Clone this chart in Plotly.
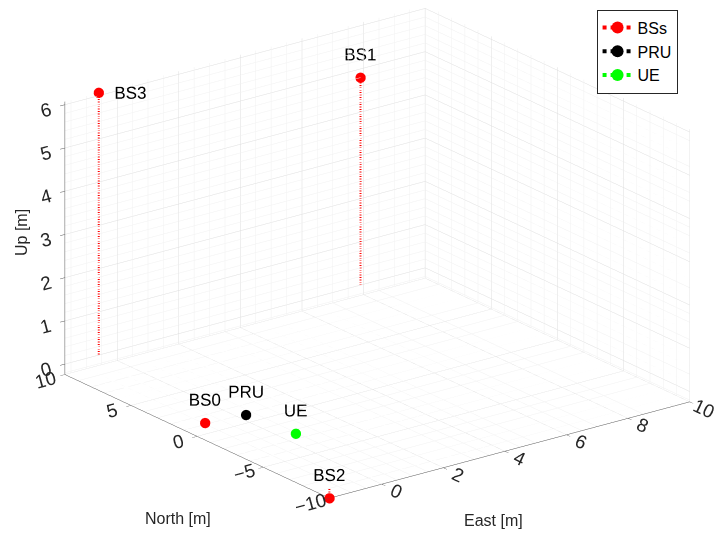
import plotly.graph_objects as go
import math

# ---- data ----
bs_names = ["BS0", "BS1", "BS2", "BS3"]
bs_east = [-1.4, 7.9, -1.7, -0.6]
bs_north = [0.1, 10.0, -10.0, 10.0]
bs_up = [0.0, 4.8, -0.24, 6.07]

pru_east = [-0.2]
pru_north = [-0.2]
pru_up = [0.0]

ue_east = [0.0]
ue_north = [-3.5]
ue_up = [0.0]

east_ticks = [0, 2, 4, 6, 8, 10]
north_ticks = [-10, -5, 0, 5, 10]
up_ticks = [0, 1, 2, 3, 4, 5, 6]

east_minor_step = 0.5
north_minor_step = 1.0
up_minor_step = 0.2

east_range = [-1.7, 10]
north_range = [-10, 10]
up_range = [-0.24, 6.07]

FONT = "Liberation Sans, Arial, sans-serif"
TXT = "#262626"
MS = 12


def minor_vals(rng, step, majors):
    k0 = math.ceil(rng[0] / step - 1e-9)
    k1 = math.floor(rng[1] / step + 1e-9)
    vals = [round(k * step, 6) for k in range(k0, k1 + 1)]
    return [v for v in vals if all(abs(v - m) > 1e-6 for m in majors)]


def stems(xs, ys, zs):
    # stem from ground (0) to the point; marker only at the point
    X, Y, Z, S = [], [], [], []
    for x, y, z in zip(xs, ys, zs):
        X += [x, x, None]
        Y += [y, y, None]
        Z += [0, z, None]
        S += [0, MS, 2 * MS]
    return X, Y, Z, S


fig = go.Figure()

# ---- minor grid on the three back planes ----
xm = minor_vals(east_range, east_minor_step, east_ticks)
ym = minor_vals(north_range, north_minor_step, north_ticks)
zm = minor_vals(up_range, up_minor_step, up_ticks)
x0, x1 = east_range
y0, y1 = north_range
z0, z1 = up_range
GX, GY, GZ = [], [], []


def seg(a, b):
    GX.extend([a[0], b[0], None])
    GY.extend([a[1], b[1], None])
    GZ.extend([a[2], b[2], None])


for v in xm:
    seg((v, y0, z0), (v, y1, z0))   # floor
    seg((v, y1, z0), (v, y1, z1))   # back wall (y = max)
for v in ym:
    seg((x0, v, z0), (x1, v, z0))   # floor
    seg((x1, v, z0), (x1, v, z1))   # side wall (x = max)
for v in zm:
    seg((x0, y1, v), (x1, y1, v))   # back wall
    seg((x1, y0, v), (x1, y1, v))   # side wall

fig.add_trace(go.Scatter3d(
    x=GX, y=GY, z=GZ, mode="lines", showlegend=False, hoverinfo="skip",
    line=dict(color="#f1f1f1", width=1)))

series = [
    ("BSs", bs_east, bs_north, bs_up, "#ff0000"),
    ("PRU", pru_east, pru_north, pru_up, "#000000"),
    ("UE", ue_east, ue_north, ue_up, "#00ff00"),
]
for name, xs, ys, zs, col in series:
    X, Y, Z, S = stems(xs, ys, zs)
    fig.add_trace(go.Scatter3d(
        x=X, y=Y, z=Z, mode="lines+markers", name=name,
        line=dict(color=col, width=4, dash="dot"),
        marker=dict(size=S, color=col, line=dict(width=0), opacity=1),
        hoverinfo="skip"))

# text labels
lab_pos = ["top center", "top center", "top center", "middle right"]
fig.add_trace(go.Scatter3d(
    x=bs_east, y=bs_north, z=bs_up, mode="text", text=bs_names,
    textposition=lab_pos, textfont=dict(family=FONT, size=17, color="#000"),
    showlegend=False, hoverinfo="skip"))
fig.add_trace(go.Scatter3d(
    x=pru_east + ue_east, y=pru_north + ue_north, z=pru_up + ue_up,
    mode="text", text=["PRU", "UE"], textposition="top center",
    textfont=dict(family=FONT, size=17, color="#000"),
    showlegend=False, hoverinfo="skip"))


def ax(rng, ticks):
    return dict(
        title=dict(text=""),
        range=rng, tickvals=ticks, autorange=False,
        tickfont=dict(family=FONT, size=15, color=TXT),
        showgrid=True, gridcolor="#dedede", gridwidth=1,
        showline=True, linecolor="#555555", linewidth=1,
        ticks="outside", ticklen=6, tickcolor="#555555",
        showbackground=False, zeroline=False, showspikes=False,
    )


p = math.sin(math.radians(37.1))
q = math.cos(math.radians(37.1))
el = math.radians(20.7)
d = 2.0
k = 1.73
# shift the look-at point so the box sits where it does in the reference
cz = -0.041
cx, cy = 0.0101, -0.0077
eye = dict(x=cx - p * math.cos(el) * d, y=cy - q * math.cos(el) * d, z=cz + math.sin(el) * d)

fig.update_layout(
    width=727, height=536,
    margin=dict(l=0, r=0, t=0, b=0),
    paper_bgcolor="white",
    font=dict(family=FONT, color=TXT),
    scene=dict(
        domain=dict(x=[0.025, 1.0], y=[0.054, 1.0]),
        xaxis=ax(east_range, east_ticks),
        yaxis=ax(north_range, north_ticks),
        zaxis=ax(up_range, up_ticks),
        aspectmode="manual",
        aspectratio=dict(x=1.03 * k, y=1.0 * k, z=0.665 * k),
        camera=dict(eye=eye, up=dict(x=0, y=0, z=1), center=dict(x=cx, y=cy, z=cz),
                    projection=dict(type="orthographic")),
    ),
    legend=dict(x=0.921, y=0.997, xanchor="right", yanchor="top",
                bgcolor="white", bordercolor="#262626", borderwidth=1,
                font=dict(family=FONT, size=16, color="#000")),
    annotations=[
        dict(text="East [m]", x=485 / 727, y=1 - 512 / 536, xref="paper", yref="paper",
             xanchor="center", yanchor="middle",
             showarrow=False, font=dict(family=FONT, size=16, color=TXT)),
        dict(text="North [m]", x=170 / 727, y=1 - 510 / 536, xref="paper", yref="paper",
             xanchor="center", yanchor="middle",
             showarrow=False, font=dict(family=FONT, size=16, color=TXT)),
        dict(text="Up [m]", x=13 / 727, y=1 - 225 / 536, xref="paper", yref="paper",
             xanchor="center", yanchor="middle",
             showarrow=False, textangle=-90, font=dict(family=FONT, size=16, color=TXT)),
    ],
)

fig.write_html("out.html")
